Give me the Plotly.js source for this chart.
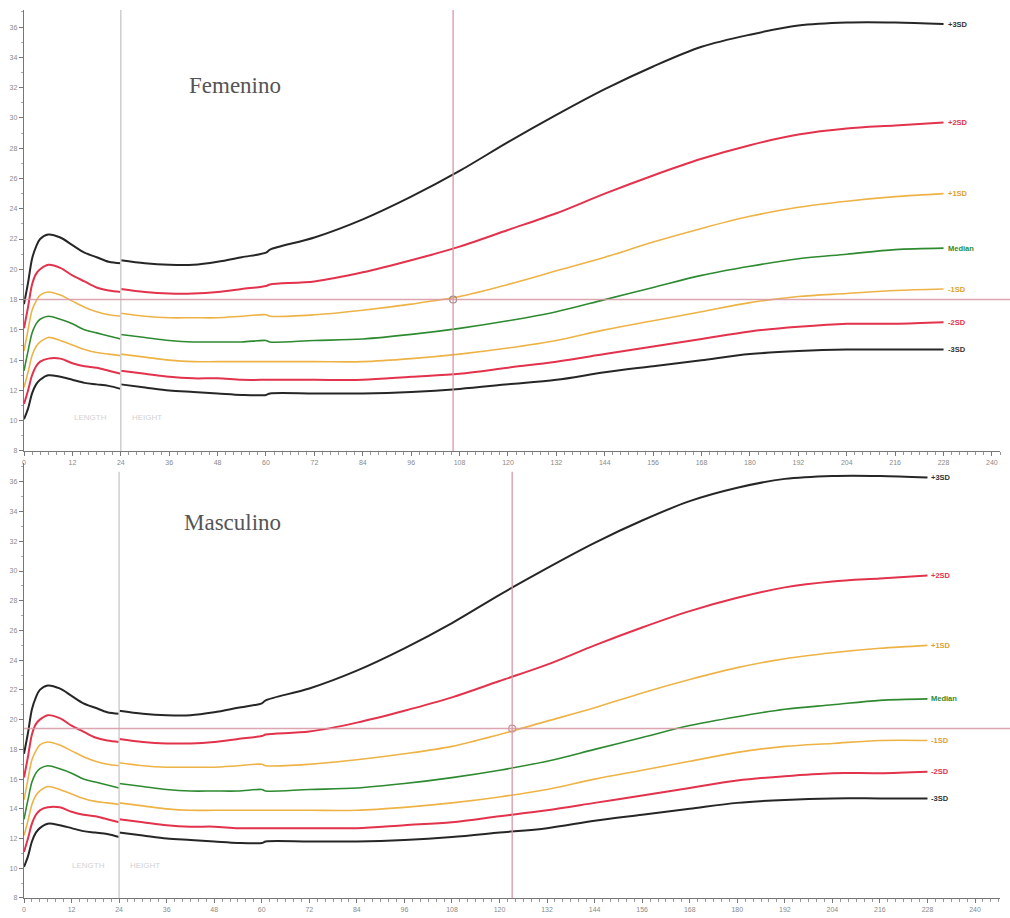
<!DOCTYPE html>
<html>
<head>
<meta charset="utf-8">
<script src="https://cdn.plot.ly/plotly-3.0.1.min.js"></script>
<style>html,body{margin:0;padding:0;background:#fff}#chart{width:1010px;height:918px}</style>
</head>
<body>
<div id="chart"></div>
<script>
// ---- ages (months): length segment (0-24), height segment (24-60 and 61-228)
const ageLen = [0,1,2,3,4,6,9,12,15,18,21,24];
const ageHt  = [24,30,36,42,48,54,60,61,72,84,96,108,120,132,144,156,168,180,192,204,216,228];

const sdNames = ['+3SD','+2SD','+1SD','Median','-1SD','-2SD','-3SD'];
const xTicks = [0,12,24,36,48,60,72,84,96,108,120,132,144,156,168,180,192,204,216,228,240];

// ---- Femenino (top)
const femP3  = [17.7,19.1,20.7,21.5,22.0,22.3,22.1,21.6,21.1,20.8,20.5,20.4,
                20.6,20.4,20.3,20.3,20.5,20.8,21.1,
                21.3,22.1,23.3,24.8,26.5,28.4,30.2,31.9,33.4,34.7,35.5,36.1,36.3,36.3,36.2];
const femP2  = [16.1,17.5,19.0,19.7,20.0,20.3,20.1,19.6,19.2,18.8,18.6,18.5,
                18.7,18.5,18.4,18.4,18.5,18.7,18.9,
                19.0,19.2,19.8,20.6,21.5,22.6,23.7,25.0,26.2,27.3,28.2,28.9,29.3,29.5,29.7];
const femP1  = [14.6,16.0,17.3,17.9,18.3,18.5,18.3,17.9,17.5,17.2,17.0,16.9,
                17.1,16.9,16.8,16.8,16.8,16.9,17.0,
                16.9,17.0,17.3,17.7,18.2,19.0,19.9,20.8,21.8,22.7,23.5,24.1,24.5,24.8,25.0];
const femMed = [13.3,14.6,15.8,16.4,16.7,16.9,16.7,16.4,16.0,15.8,15.6,15.4,
                15.7,15.5,15.3,15.2,15.2,15.2,15.3,
                15.2,15.3,15.4,15.7,16.1,16.6,17.2,18.0,18.8,19.6,20.2,20.7,21.0,21.3,21.4];
const femM1  = [12.2,13.2,14.3,14.9,15.2,15.5,15.3,15.0,14.7,14.5,14.4,14.3,
                14.4,14.2,14.0,13.9,13.9,13.9,13.9,
                13.9,13.9,13.9,14.1,14.4,14.8,15.3,16.0,16.6,17.2,17.8,18.2,18.4,18.6,18.7];
const femM2  = [11.1,12.0,13.0,13.6,13.9,14.1,14.1,13.8,13.6,13.5,13.3,13.1,
                13.3,13.1,12.9,12.8,12.8,12.7,12.7,
                12.7,12.7,12.7,12.9,13.1,13.5,13.9,14.4,14.9,15.4,15.9,16.2,16.4,16.4,16.5];
const femM3  = [10.1,10.8,11.8,12.4,12.7,13.0,12.9,12.7,12.5,12.4,12.3,12.1,
                12.4,12.2,12.0,11.9,11.8,11.7,11.7,
                11.8,11.8,11.8,11.9,12.1,12.4,12.7,13.2,13.6,14.0,14.4,14.6,14.7,14.7,14.7];

// ---- Masculino (bottom)
const masP3  = [17.7,19.1,20.7,21.5,22.0,22.3,22.1,21.6,21.1,20.8,20.5,20.4,
                20.6,20.4,20.3,20.3,20.5,20.8,21.1,
                21.3,22.1,23.3,24.8,26.5,28.4,30.2,31.9,33.4,34.7,35.6,36.2,36.4,36.4,36.3];
const masP2  = [16.1,17.5,19.0,19.7,20.0,20.3,20.1,19.6,19.2,18.8,18.6,18.5,
                18.7,18.5,18.4,18.4,18.5,18.7,18.9,
                19.0,19.2,19.8,20.6,21.5,22.6,23.7,25.0,26.2,27.3,28.2,28.9,29.3,29.5,29.7];
const masP1  = [14.6,16.0,17.3,17.9,18.3,18.5,18.3,17.9,17.5,17.2,17.0,16.9,
                17.1,16.9,16.8,16.8,16.8,16.9,17.0,
                16.9,17.0,17.3,17.7,18.2,19.0,19.9,20.8,21.8,22.7,23.5,24.1,24.5,24.8,25.0];
const masMed = [13.3,14.6,15.8,16.4,16.7,16.9,16.7,16.4,16.0,15.8,15.6,15.4,
                15.7,15.5,15.3,15.2,15.2,15.2,15.3,
                15.2,15.3,15.4,15.7,16.1,16.6,17.2,18.0,18.8,19.6,20.2,20.7,21.0,21.3,21.4];
const masM1  = [12.2,13.2,14.3,14.9,15.2,15.5,15.3,15.0,14.7,14.5,14.4,14.3,
                14.4,14.2,14.0,13.9,13.9,13.9,13.9,
                13.9,13.9,13.9,14.1,14.4,14.8,15.3,16.0,16.6,17.2,17.8,18.2,18.4,18.6,18.6];
const masM2  = [11.1,12.0,13.0,13.6,13.9,14.1,14.1,13.8,13.6,13.5,13.3,13.1,
                13.3,13.1,12.9,12.8,12.8,12.7,12.7,
                12.7,12.7,12.7,12.9,13.1,13.5,13.9,14.4,14.9,15.4,15.9,16.2,16.4,16.4,16.5];
const masM3  = [10.1,10.8,11.8,12.4,12.7,13.0,12.9,12.7,12.5,12.4,12.3,12.1,
                12.4,12.2,12.0,11.9,11.8,11.7,11.7,
                11.8,11.8,11.8,11.9,12.1,12.4,12.7,13.2,13.6,14.0,14.4,14.6,14.7,14.7,14.7];

// ---- crosshair points (age months, BMI)
const femPointAge = [106.4];
const femPointBmi = [18.0];
const masPointAge = [123.2];
const masPointBmi = [19.4];

const panelTitles = ['Femenino','Masculino'];

// ---- styles
const sdColors = ['#262626','#e2324c','#eeb347','#2e8a30','#eeb347','#e2324c','#262626'];
const sdWidths = [2,2,1.6,1.6,1.6,2,2];
const labelColors = ['#333','#e2324c','#e0a030','#2e8a30','#e0a030','#e2324c','#333'];

const femSeries = [femP3,femP2,femP1,femMed,femM1,femM2,femM3];
const masSeries = [masP3,masP2,masP1,masMed,masM1,masM2,masM3];

const segAges = [ageLen, ageHt];
function splitSeg(vals){
  const out = []; let k = 0;
  segAges.forEach(a => { out.push({x:a, y:vals.slice(k, k + a.length)}); k += a.length; });
  return out;
}

const traces = [];
function addPanel(series, xa, ya){
  series.forEach((vals, i) => {
    splitSeg(vals).forEach(s => {
      traces.push({x:s.x, y:s.y, xaxis:xa, yaxis:ya, type:'scatter', mode:'lines',
        line:{color:sdColors[i], width:sdWidths[i], shape:'spline', smoothing:0.9},
        hoverinfo:'skip', showlegend:false});
    });
  });
}
addPanel(femSeries,'x','y');
addPanel(masSeries,'x2','y2');

traces.push({x:femPointAge, y:femPointBmi, xaxis:'x', yaxis:'y', type:'scatter', mode:'markers',
  marker:{symbol:'circle-open', size:7, color:'#9a8a8e', line:{width:1.2}}, showlegend:false});
traces.push({x:masPointAge, y:masPointBmi, xaxis:'x2', yaxis:'y2', type:'scatter', mode:'markers',
  marker:{symbol:'circle-open', size:7, color:'#c7909a', line:{width:1.2}}, showlegend:false});

const tickFont = {family:'Liberation Sans, Arial', size:7, color:'#8a8a8a'};
function xAxis(range, anchor){
  return {domain:[0,1], anchor:anchor, range:range, tickvals:xTicks, ticks:'outside', ticklen:4,
    tickcolor:'#777', showline:true, linecolor:'#777', linewidth:1.2, showgrid:false, zeroline:false,
    tickfont:tickFont, minor:{dtick:2, tick0:0, ticks:'outside', ticklen:3, tickcolor:'#999'}, fixedrange:true};
}
function yAxis(domain, range, anchor){
  return {domain:domain, anchor:anchor, range:range, tick0:8, dtick:2, ticks:'outside', ticklen:4,
    tickcolor:'#777', showline:true, linecolor:'#777', linewidth:1.2, showgrid:false, zeroline:false,
    tickfont:tickFont, minor:{dtick:1, ticks:'outside', ticklen:2, tickcolor:'#aaa'}, fixedrange:true};
}

const layout = {
  width:1010, height:918,
  margin:{l:24, r:10, t:10, b:20},
  paper_bgcolor:'#fff', plot_bgcolor:'#fff',
  showlegend:false,
  xaxis: xAxis([0,242],'y'),
  yaxis: yAxis([0.5034,1],[8,37.13],'x'),
  xaxis2: xAxis([0,246.3],'y2'),
  yaxis2: yAxis([0,0.4899],[8,37.27],'x2'),
  shapes:[
    {type:'line', xref:'x', yref:'y domain', x0:24, x1:24, y0:0, y1:1, line:{color:'#cfcfcf', width:1.5}},
    {type:'line', xref:'x2', yref:'y2 domain', x0:24, x1:24, y0:0, y1:0.98, line:{color:'#cfcfcf', width:1.5}},
    {type:'line', xref:'x', yref:'y domain', x0:femPointAge[0], x1:femPointAge[0], y0:0, y1:1, line:{color:'rgba(214,150,162,0.85)', width:1.5}},
    {type:'line', xref:'paper', yref:'y', x0:0, x1:1.012, y0:femPointBmi[0], y1:femPointBmi[0], line:{color:'rgba(214,150,162,0.85)', width:1.5}},
    {type:'line', xref:'x2', yref:'y2 domain', x0:masPointAge[0], x1:masPointAge[0], y0:0, y1:0.98, line:{color:'rgba(214,150,162,0.85)', width:1.5}},
    {type:'line', xref:'paper', yref:'y2', x0:0, x1:1.012, y0:masPointBmi[0], y1:masPointBmi[0], line:{color:'rgba(214,150,162,0.85)', width:1.5}}
  ],
  annotations:[]
};

const ann = layout.annotations;
ann.push({xref:'paper', yref:'paper', x:0.216, y:0.9155, xanchor:'center', yanchor:'middle', text:panelTitles[0], showarrow:false,
  font:{family:'Liberation Serif, Times New Roman, serif', size:23, color:'#555'}});
ann.push({xref:'paper', yref:'paper', x:0.214, y:0.4223, xanchor:'center', yanchor:'middle', text:panelTitles[1], showarrow:false,
  font:{family:'Liberation Serif, Times New Roman, serif', size:23, color:'#555'}});

[['x','y',femSeries],['x2','y2',masSeries]].forEach(([xa,ya,series]) => {
  ann.push({xref:xa, yref:ya, x:16.4, y:10.2, text:'LENGTH', showarrow:false,
    font:{family:'Liberation Sans, Arial', size:8, color:'#d2d2d2'}});
  ann.push({xref:xa, yref:ya, x:30.5, y:10.2, text:'HEIGHT', showarrow:false,
    font:{family:'Liberation Sans, Arial', size:8, color:'#d2d2d2'}});
  series.forEach((vals, i) => {
    ann.push({xref:xa, yref:ya, x:ageHt[ageHt.length-1], y:vals[vals.length-1], text:'<b>'+sdNames[i]+'</b>',
      xanchor:'left', xshift:2, showarrow:false,
      font:{family:'Liberation Sans, Arial', size:7.5, color:labelColors[i]}});
  });
});

Plotly.newPlot('chart', traces, layout, {displayModeBar:false, staticPlot:true});
</script>
</body>
</html>
